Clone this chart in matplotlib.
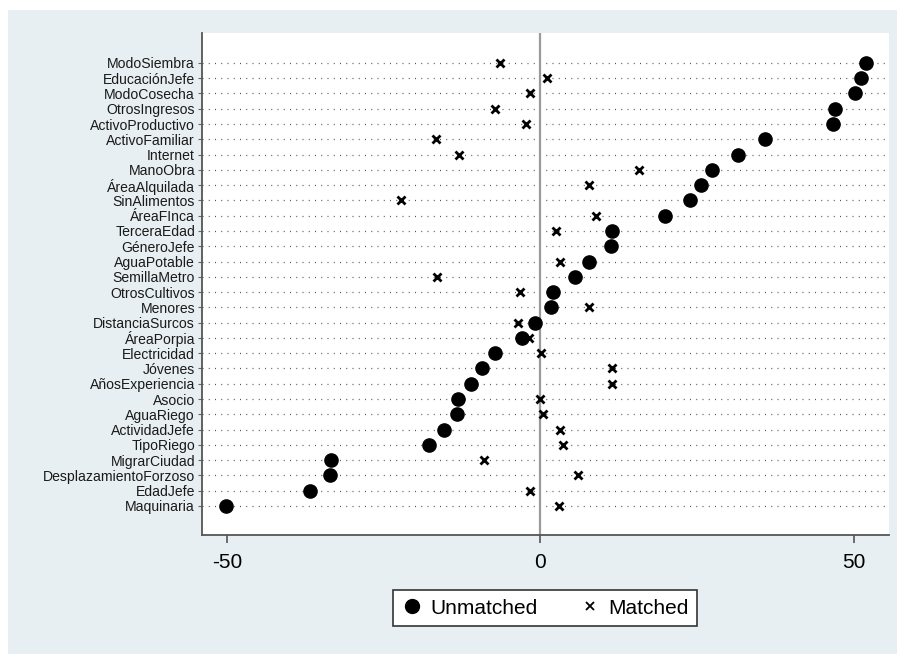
import matplotlib.pyplot as plt
from matplotlib.patches import Rectangle

plt.rcParams['font.family'] = ['Liberation Sans', 'DejaVu Sans']

variables = ["ModoSiembra", "EducaciónJefe", "ModoCosecha", "OtrosIngresos",
             "ActivoProductivo", "ActivoFamiliar", "Internet", "ManoObra",
             "ÁreaAlquilada", "SinAlimentos", "ÁreaFInca", "TerceraEdad",
             "GéneroJefe", "AguaPotable", "SemillaMetro", "OtrosCultivos",
             "Menores", "DistanciaSurcos", "ÁreaPorpia", "Electricidad",
             "Jóvenes", "AñosExperiencia", "Asocio", "AguaRiego",
             "ActividadJefe", "TipoRiego", "MigrarCiudad",
             "DesplazamientoForzoso", "EdadJefe", "Maquinaria"]

unmatched = [51.9, 51.1, 50.2, 47.0, 46.7, 35.9, 31.5, 27.4, 25.6, 23.9,
             19.9, 11.4, 11.3, 7.8, 5.5, 2.0, 1.7, -0.9, -3.0, -7.3,
             -9.3, -11.0, -13.1, -13.3, -15.3, -17.8, -33.3, -33.6, -36.7, -50.2]

matched = [-6.5, 1.1, -1.7, -7.3, -2.3, -16.6, -12.9, 15.8, 7.7, -22.2,
           8.9, 2.5, 11.3, 3.2, -16.5, -3.3, 7.7, -3.6, -1.8, 0.05,
           11.4, 11.5, 0.0, 0.5, 3.1, 3.6, -9.0, 6.0, -1.7, 2.9]

xticks = [-50, 0, 50]

bg = "#E8EFF2"
fig = plt.figure(figsize=(8.97, 6.54), dpi=100, facecolor=bg)
# white strips along the top and left edge
fig.patches.append(Rectangle((0, 1 - 10 / 654), 1, 10 / 654, transform=fig.transFigure,
                             facecolor="white", edgecolor="none", zorder=-10))
fig.patches.append(Rectangle((0, 0), 8 / 897, 1, transform=fig.transFigure,
                             facecolor="white", edgecolor="none", zorder=-10))

ax = fig.add_axes([202 / 897, 119 / 654, (889 - 202) / 897, (535 - 33) / 654])
ax.set_facecolor("white")

pos = list(range(len(variables)))

# dotted row lines
for p in pos:
    ax.axhline(p, color="#555555", linestyle=(0, (0.8, 4.2)), linewidth=0.9, zorder=1)
ax.axvline(0, color="#9a9a9a", linewidth=1.6, zorder=1)

ax.plot(unmatched, pos, "o", color="black", markersize=9.5, linestyle="none",
        label="Unmatched", zorder=3)
ax.plot(matched, pos, "x", color="black", markersize=6, markeredgewidth=2,
        linestyle="none", label="Matched", zorder=4)

ax.set_xlim(-53.95, 55.6)
ax.set_ylim(30.9, -1.96)
ax.set_yticks(pos)
ax.set_yticklabels(variables, fontsize=10.1, color="#1a1a1a")
ax.set_xticks(xticks)
ax.set_xticklabels([str(t) for t in xticks], fontsize=15)
ax.tick_params(axis="y", length=3, width=0.8, color="#666666", pad=2)
ax.tick_params(axis="x", length=6, width=1.2, color="#555555", pad=7)

for s in ["top", "right"]:
    ax.spines[s].set_visible(False)
for s in ["left", "bottom"]:
    ax.spines[s].set_color("#555555")
    ax.spines[s].set_linewidth(1.3)

leg = fig.legend(loc="center", bbox_to_anchor=(545 / 897, 1 - 608 / 654),
                 ncol=2, fontsize=15, frameon=True, fancybox=False,
                 framealpha=1, edgecolor="#333333", handletextpad=0.4,
                 columnspacing=2.0, borderpad=0.4, handlelength=1.0)
leg.get_frame().set_linewidth(1.2)
leg.get_frame().set_facecolor("white")
leg.legend_handles[0].set_markersize(10)
leg.legend_handles[1].set_markersize(6)
leg.legend_handles[1].set_markeredgewidth(1.3)

fig.savefig("out.png", dpi=100, facecolor=fig.get_facecolor())
